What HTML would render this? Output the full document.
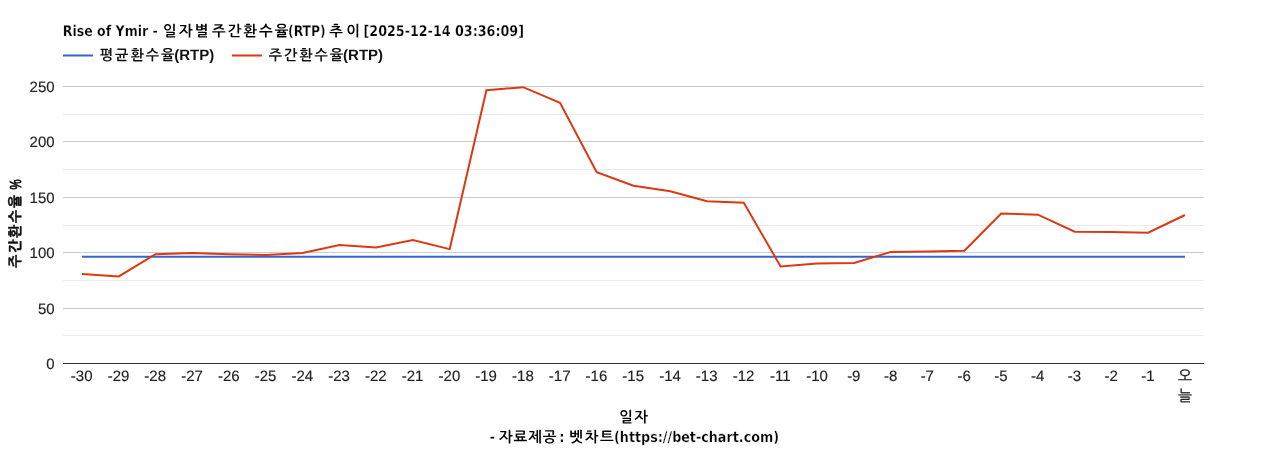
<!DOCTYPE html>
<html lang="ko">
<head>
<meta charset="utf-8">
<title>Rise of Ymir - 일자별 주간환수율(RTP) 추이</title>
<style>
html,body{margin:0;padding:0;background:#fff;}
body{width:1268px;height:450px;overflow:hidden;}
svg{display:block;}
svg text{text-rendering:geometricPrecision;}
.tick{font-family:"Liberation Sans","Noto Sans CJK KR",sans-serif;font-size:15px;fill:#222;stroke:#222;stroke-width:0.15px;}
.ttl{font-family:"DejaVu Sans Condensed","DejaVu Sans","Noto Sans CJK KR",sans-serif;font-stretch:condensed;font-weight:bold;font-size:14.7px;fill:#000;}
.ttl .la{stroke:#fff;stroke-width:0.25px;}
.krr{font-family:"NanumGothic","Noto Sans CJK KR",sans-serif;font-size:15px;stroke:#222;stroke-width:0.35px;}
.kr{font-family:"NanumGothic","Noto Sans CJK KR",sans-serif;font-weight:bold;}
.lg{font-family:"Liberation Sans","Noto Sans CJK KR",sans-serif;font-weight:bold;font-size:15px;fill:#111;}
</style>
</head>
<body>
<svg xmlns="http://www.w3.org/2000/svg" width="1268" height="450" viewBox="0 0 1268 450">
<rect x="0" y="0" width="1268" height="450" fill="#ffffff"/>

<g class="ttl">
<text class="la" x="62.8" y="35.5" textLength="95" lengthAdjust="spacingAndGlyphs">Rise of Ymir -</text>
<text class="kr" x="163" y="35.6" font-size="14.5" textLength="45.5" lengthAdjust="spacing">일자별</text>
<text class="kr" x="212" y="35.6" font-size="14.5" textLength="76.3" lengthAdjust="spacing">주간환수율</text>
<text class="la" x="288" y="35.5" textLength="37.6" lengthAdjust="spacingAndGlyphs">(RTP)</text>
<text class="kr" x="329.3" y="35.6" font-size="14.5" textLength="30.5" lengthAdjust="spacing">추이</text>
<text class="la" x="363.5" y="35.5" textLength="160.5" lengthAdjust="spacingAndGlyphs">[2025-12-14 03:36:09]</text>
</g>
<g class="lg">
<rect x="63" y="54.5" width="30" height="2" fill="#3366cc"/>
<text class="kr" x="99.8" y="59.5" font-size="14.2" textLength="74.5" lengthAdjust="spacing">평균환수율</text>
<text x="174.2" y="59.8">(RTP)</text>
<rect x="232" y="54.5" width="30" height="2" fill="#dc3912"/>
<text class="kr" x="268.7" y="59.5" font-size="14.2" textLength="74.5" lengthAdjust="spacing">주간환수율</text>
<text x="343.1" y="59.8">(RTP)</text>
</g>
<g shape-rendering="crispEdges">
<rect x="63" y="114" width="1141" height="1" fill="#ebebeb"/>
<rect x="63" y="169" width="1141" height="1" fill="#ebebeb"/>
<rect x="63" y="225" width="1141" height="1" fill="#ebebeb"/>
<rect x="63" y="280" width="1141" height="1" fill="#ebebeb"/>
<rect x="63" y="335" width="1141" height="1" fill="#ebebeb"/>
<rect x="63" y="86" width="1141" height="1" fill="#cccccc"/>
<rect x="63" y="141" width="1141" height="1" fill="#cccccc"/>
<rect x="63" y="197" width="1141" height="1" fill="#cccccc"/>
<rect x="63" y="252" width="1141" height="1" fill="#cccccc"/>
<rect x="63" y="308" width="1141" height="1" fill="#cccccc"/>
</g>
<path d="M82.0,256.85L1185.0,256.85" stroke="#3366cc" stroke-width="2" fill="none"/>
<path d="M82.0,273.9L118.8,276.4L155.5,254.2L192.3,253.0L229.1,254.3L265.8,255.0L302.6,253.0L339.4,245.0L376.1,247.4L412.9,240.0L449.7,249.1L486.4,90.2L523.2,87.2L560.0,102.8L596.7,172.1L633.5,185.8L670.3,191.3L707.0,201.3L743.8,202.8L780.6,266.5L817.3,263.5L854.1,263.0L890.9,251.9L927.6,251.5L964.4,250.7L1001.2,213.6L1037.9,214.7L1074.7,231.7L1111.5,232.1L1148.2,232.7L1185.0,215.0" stroke="#dc3912" stroke-width="2" fill="none"/>
<rect x="63" y="363" width="1141" height="1" fill="#333333" shape-rendering="crispEdges"/>
<g class="tick" text-anchor="end">
<text transform="translate(54.6 368.8)">0</text>
<text transform="translate(54.6 313.8)">50</text>
<text transform="translate(54.6 257.8)">100</text>
<text transform="translate(54.6 202.8)">150</text>
<text transform="translate(54.6 146.8)">200</text>
<text transform="translate(54.6 91.8)">250</text>
</g>
<g class="tick" text-anchor="middle">
<text transform="translate(81.7 381)">-30</text>
<text transform="translate(118.5 381)">-29</text>
<text transform="translate(155.2 381)">-28</text>
<text transform="translate(192.0 381)">-27</text>
<text transform="translate(228.8 381)">-26</text>
<text transform="translate(265.5 381)">-25</text>
<text transform="translate(302.3 381)">-24</text>
<text transform="translate(339.1 381)">-23</text>
<text transform="translate(375.8 381)">-22</text>
<text transform="translate(412.6 381)">-21</text>
<text transform="translate(449.4 381)">-20</text>
<text transform="translate(486.1 381)">-19</text>
<text transform="translate(522.9 381)">-18</text>
<text transform="translate(559.7 381)">-17</text>
<text transform="translate(596.4 381)">-16</text>
<text transform="translate(633.2 381)">-15</text>
<text transform="translate(670.0 381)">-14</text>
<text transform="translate(706.7 381)">-13</text>
<text transform="translate(743.5 381)">-12</text>
<text transform="translate(780.3 381)">-11</text>
<text transform="translate(817.0 381)">-10</text>
<text transform="translate(853.8 381)">-9</text>
<text transform="translate(890.6 381)">-8</text>
<text transform="translate(927.3 381)">-7</text>
<text transform="translate(964.1 381)">-6</text>
<text transform="translate(1000.9 381)">-5</text>
<text transform="translate(1037.6 381)">-4</text>
<text transform="translate(1074.4 381)">-3</text>
<text transform="translate(1111.2 381)">-2</text>
<text transform="translate(1147.9 381)">-1</text>
<text class="krr"><tspan x="1185.0" y="381.2">오</tspan><tspan x="1185.0" y="401.4">늘</tspan></text>
</g>
<g class="lg" transform="translate(20.5 224) rotate(-90)"><text class="kr" x="-43.8" y="-0.6" font-size="14" textLength="73" lengthAdjust="spacing" stroke="#111" stroke-width="0.45">주간환수율</text><text transform="translate(34.4 0) scale(0.76 1.06)" x="0" y="0" font-weight="normal" stroke="#111" stroke-width="0.8">%</text></g>
<g class="ttl">
<text class="kr" x="619.3" y="422" font-size="14.5" textLength="28.5" lengthAdjust="spacing">일자</text>
<text class="la" x="489.5" y="441.7">-</text>
<text class="kr" x="499" y="441.9" font-size="14.5" textLength="57.5" lengthAdjust="spacing">자료제공</text>
<text class="la" x="559.3" y="441.7">:</text>
<text class="kr" x="569.3" y="441.9" font-size="14.5" textLength="44.3" lengthAdjust="spacing">벳차트</text>
<text class="la" x="614" y="441.7" textLength="165" lengthAdjust="spacingAndGlyphs">(https://bet-chart.com)</text>
</g>
</svg>
</body>
</html>
